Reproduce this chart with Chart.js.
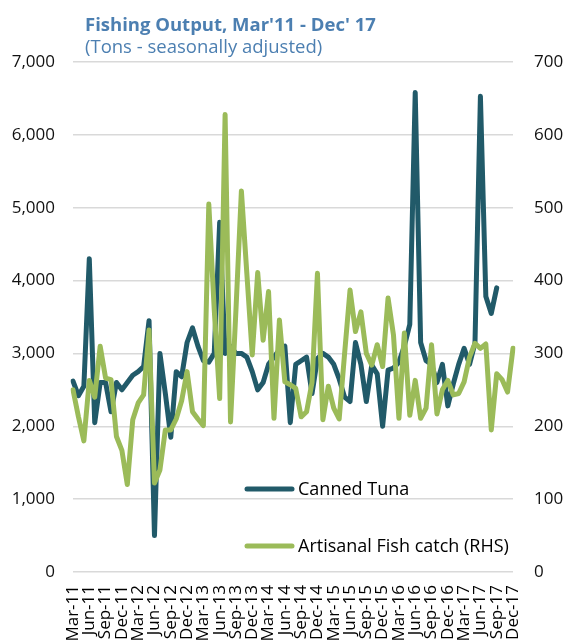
<!DOCTYPE html>
<html>
<head>
<meta charset="utf-8">
<script src="https://cdn.jsdelivr.net/npm/chart.js@4.4.1/dist/chart.umd.min.js"></script>
<style>
html, body { margin: 0; padding: 0; background: #fff; overflow: hidden; }
#wrap { width: 570px; height: 641px; position: relative; }
</style>
</head>
<body>
<div id="wrap"><canvas id="fishChart"></canvas></div>
<script>
const months = [
  "Mar-11","Apr-11","May-11","Jun-11","Jul-11","Aug-11","Sep-11","Oct-11","Nov-11","Dec-11",
  "Jan-12","Feb-12","Mar-12","Apr-12","May-12","Jun-12","Jul-12","Aug-12","Sep-12","Oct-12","Nov-12","Dec-12",
  "Jan-13","Feb-13","Mar-13","Apr-13","May-13","Jun-13","Jul-13","Aug-13","Sep-13","Oct-13","Nov-13","Dec-13",
  "Jan-14","Feb-14","Mar-14","Apr-14","May-14","Jun-14","Jul-14","Aug-14","Sep-14","Oct-14","Nov-14","Dec-14",
  "Jan-15","Feb-15","Mar-15","Apr-15","May-15","Jun-15","Jul-15","Aug-15","Sep-15","Oct-15","Nov-15","Dec-15",
  "Jan-16","Feb-16","Mar-16","Apr-16","May-16","Jun-16","Jul-16","Aug-16","Sep-16","Oct-16","Nov-16","Dec-16",
  "Jan-17","Feb-17","Mar-17","Apr-17","May-17","Jun-17","Jul-17","Aug-17","Sep-17","Oct-17","Nov-17","Dec-17"
];

// only every third month gets a label on the x axis
const tickLabels = [
  "Mar-11","Jun-11","Sep-11","Dec-11","Mar-12","Jun-12","Sep-12","Dec-12",
  "Mar-13","Jun-13","Sep-13","Dec-13","Mar-14","Jun-14","Sep-14","Dec-14",
  "Mar-15","Jun-15","Sep-15","Dec-15","Mar-16","Jun-16","Sep-16","Dec-16",
  "Mar-17","Jun-17","Sep-17","Dec-17"
];

// tons, left axis
const cannedTuna = [
  2620, 2420, 2550, 4300, 2050, 2600, 2600, 2200, 2600, 2500,
  2600, 2700, 2750, 2820, 3450, 500, 3000, 2450, 1850, 2750, 2680, 3150,
  3350, 3100, 2900, 2880, 3000, 4800, 3000, 3100, 3000, 3000, 2950, 2750,
  2500, 2600, 2850, 2950, 3050, 3100, 2050, 2850, 2900, 2950, 2450, 2930,
  3000, 2950, 2850, 2650, 2400, 2340, 3150, 2850, 2340, 2840, 2720, 2000,
  2770, 2800, 2880, 3100, 3400, 6580, 3150, 2900, 2850, 2600, 2850, 2280,
  2580, 2850, 3070, 2850, 3140, 6530, 3780, 3550, 3900, null, null, null
];

// tons, right axis
const artisanalCatch = [
  250, 213, 180, 263, 240, 310, 266, 264, 186, 167,
  120, 209, 232, 243, 332, 122, 140, 195, 195, 210, 235, 275,
  220, 210, 201, 505, 360, 238, 628, 206, 360, 523, 410, 298,
  411, 318, 385, 211, 346, 261, 257, 252, 213, 220, 260, 410,
  209, 255, 225, 210, 300, 387, 330, 357, 300, 284, 312, 282,
  376, 325, 211, 328, 215, 263, 211, 225, 312, 217, 250, 263,
  243, 245, 261, 295, 314, 307, 313, 195, 272, 264, 247, 307
];

const tunaColor = "#215a69";
const catchColor = "#9bbb59";
const titleColor = "#4c7fb1";
const FONT = '"Open Sans", "Noto Sans", sans-serif';

const titlePlugin = {
  id: "titleText",
  afterDraw(chart) {
    const ctx = chart.ctx;
    ctx.save();
    ctx.fillStyle = titleColor;
    ctx.textAlign = "left";
    ctx.textBaseline = "alphabetic";
    ctx.font = "bold 18.5px " + FONT;
    ctx.fillText("Fishing Output, Mar'11 - Dec' 17", 85, 31);
    ctx.font = "18.5px " + FONT;
    ctx.fillText("(Tons - seasonally adjusted)", 85, 53);
    ctx.restore();
  }
};

const legendPlugin = {
  id: "insideLegend",
  afterDraw(chart) {
    const ctx = chart.ctx;
    const items = chart.data.datasets.map((ds, i) => ({ text: ds.label, color: ds.borderColor, y: [489, 546][i] }));
    ctx.save();
    ctx.font = "18px " + FONT;
    ctx.textBaseline = "middle";
    ctx.fillStyle = "#000";
    items.forEach(item => {
      ctx.strokeStyle = item.color;
      ctx.lineWidth = 5;
      ctx.lineCap = "round";
      ctx.beginPath();
      ctx.moveTo(247, item.y);
      ctx.lineTo(292, item.y);
      ctx.stroke();
      ctx.fillText(item.text, 298, item.y + 1);
    });
    ctx.restore();
  }
};

new Chart("fishChart", {
  type: "line",
  data: {
    labels: months,
    datasets: [{
      label: "Canned Tuna",
      data: cannedTuna,
      borderColor: tunaColor,
      backgroundColor: tunaColor,
      borderWidth: 5,
      yAxisID: "y",
      order: 2
    }, {
      label: "Artisanal Fish catch (RHS)",
      data: artisanalCatch,
      borderColor: catchColor,
      backgroundColor: catchColor,
      borderWidth: 5,
      yAxisID: "y1",
      order: 1
    }]
  },
  options: {
    responsive: true,
    maintainAspectRatio: false,
    animation: false,
    layout: { padding: { top: 62, left: 0, right: 0, bottom: 0 } },
    elements: {
      point: { radius: 0, hoverRadius: 0 },
      line: { tension: 0, borderJoinStyle: "round", borderCapStyle: "round" }
    },
    plugins: {
      legend: { display: false },
      tooltip: { enabled: false },
      title: { display: false }
    },
    scales: {
      x: {
        offset: false,
        grid: { display: false, drawTicks: false },
        border: { display: false },
        ticks: {
          autoSkip: false,
          minRotation: 90,
          maxRotation: 90,
          padding: 13,
          color: "#000",
          font: { family: FONT, size: 17 },
          callback: function (value) {
            const label = this.getLabelForValue(value);
            return tickLabels.includes(label) ? label : "";
          }
        },
        afterFit(scale) { scale.height = 69; }
      },
      y: {
        position: "left",
        min: 0,
        max: 7000,
        grid: { color: "#d9d9d9", lineWidth: 1.5, drawTicks: false },
        border: { display: false },
        ticks: {
          stepSize: 1000,
          padding: 18,
          color: "#111",
          font: { family: FONT, size: 17 },
          callback: v => v.toLocaleString("en-US")
        },
        afterFit(scale) { scale.width = 73; }
      },
      y1: {
        position: "right",
        min: 0,
        max: 700,
        grid: { display: false, drawTicks: false },
        border: { display: false },
        ticks: {
          stepSize: 100,
          padding: 21,
          color: "#111",
          font: { family: FONT, size: 17 }
        },
        afterFit(scale) { scale.width = 57; }
      }
    }
  },
  plugins: [titlePlugin, legendPlugin]
});
</script>
</body>
</html>
